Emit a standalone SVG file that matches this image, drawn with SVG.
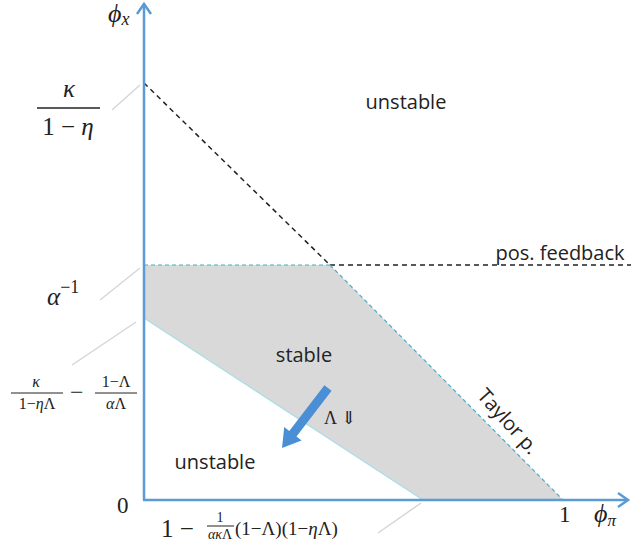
<svg xmlns="http://www.w3.org/2000/svg" width="631" height="555" viewBox="0 0 631 555">
<defs>
<style>
.lbl{font-family:"Open Sans","Liberation Sans",sans-serif;font-size:20px;fill:#222}
.m{font-family:"Liberation Serif","DejaVu Serif",serif;fill:#222}
.mi{font-family:"Liberation Serif","DejaVu Serif",serif;font-style:italic;fill:#222}
.axis{stroke:#5b9bd5;stroke-width:2.5;fill:none}
.lead{stroke:#d6d6d6;stroke-width:1.5;fill:none}
.dash{stroke:#222;stroke-width:1.5;stroke-dasharray:5,4;fill:none}
.edge{stroke:#4bacc6;stroke-width:1.2;stroke-dasharray:4,3;fill:none}
</style>
</defs>
<rect width="631" height="555" fill="#fff"/>
<g id="region-stable">
<polygon points="144,265 330,265 563,500 423,500 144,318" fill="#d9d9d9"/>
</g>
<g id="connectors">
<line class="dash" x1="144" y1="83" x2="330" y2="265"/>
<line class="dash" x1="330" y1="265" x2="631" y2="265"/>
<line class="edge" x1="144" y1="265" x2="330" y2="265"/>
<line class="edge" x1="330" y1="265" x2="563" y2="500"/>
<line stroke="#a8dde6" stroke-width="1.2" x1="144" y1="318" x2="423" y2="500"/>
<line class="lead" x1="112" y1="110" x2="140" y2="85"/>
<line class="lead" x1="100" y1="300" x2="140" y2="268"/>
<line class="lead" x1="72" y1="365" x2="136" y2="322"/>
<line class="lead" x1="378" y1="533" x2="421" y2="503"/>
</g>
<g id="axes">
<line class="axis" x1="144" y1="500" x2="144" y2="4"/>
<polyline class="axis" points="137,14 144,4 151,14"/>
<line class="axis" x1="143" y1="500" x2="628" y2="500"/>
<polyline class="axis" points="618,493 628,500 618,507"/>
</g>
<g id="arrow">
<polygon points="331.6,390.7 296.5,436.4 301.6,440.4 282,448 284.2,427 289.3,431 324.4,385.3" fill="#4a8fd6"/>
</g>
<g id="labels">
<text class="mi" x="108" y="22" font-size="26">ϕ<tspan font-size="18" dy="3">x</tspan></text>
<text class="mi" x="69" y="97" font-size="25" text-anchor="middle">κ</text>
<line x1="37" y1="108" x2="100" y2="108" stroke="#222" stroke-width="1.3"/>
<text class="m" x="68" y="135" font-size="25" text-anchor="middle">1 − <tspan font-style="italic">η</tspan></text>
<text class="mi" x="47" y="305" font-size="25">α<tspan font-style="normal" font-size="18" dy="-12">−1</tspan></text>
<text class="mi" x="36" y="387" font-size="16" text-anchor="middle">κ</text>
<line x1="11" y1="393" x2="63" y2="393" stroke="#222" stroke-width="1"/>
<text class="m" x="37" y="409" font-size="16" text-anchor="middle">1−<tspan font-style="italic">η</tspan>Λ</text>
<text class="m" x="70" y="400" font-size="24">−</text>
<text class="m" x="116" y="387" font-size="16" text-anchor="middle">1−Λ</text>
<line x1="95" y1="393" x2="137" y2="393" stroke="#222" stroke-width="1"/>
<text class="m" x="116" y="409" font-size="16" text-anchor="middle"><tspan font-style="italic">α</tspan>Λ</text>
<text class="m" x="117" y="513" font-size="23">0</text>
<text class="m" x="161" y="537" font-size="25">1 −</text>
<text class="m" x="220" y="522" font-size="14" text-anchor="middle">1</text>
<line x1="207" y1="526" x2="234" y2="526" stroke="#222" stroke-width="1"/>
<text class="mi" x="220" y="539" font-size="14" text-anchor="middle">ακ<tspan font-style="normal">Λ</tspan></text>
<text class="m" x="235" y="535" font-size="19">(1−Λ)(1−<tspan font-style="italic">η</tspan>Λ)</text>
<text class="m" x="559" y="522" font-size="23">1</text>
<text class="mi" x="594" y="522" font-size="26">ϕ<tspan font-size="17" dy="4">π</tspan></text>
<text class="lbl" x="406" y="109" text-anchor="middle">unstable</text>
<text class="lbl" x="560" y="260" text-anchor="middle">pos. feedback</text>
<text class="lbl" x="304" y="362" text-anchor="middle">stable</text>
<text class="lbl" x="215" y="469" text-anchor="middle">unstable</text>
<text class="lbl" x="0" y="0" text-anchor="middle" transform="translate(503,426) rotate(48)">Taylor p.</text>
<text class="m" x="324" y="424" font-size="18">Λ ⇓</text>
</g>
</svg>
